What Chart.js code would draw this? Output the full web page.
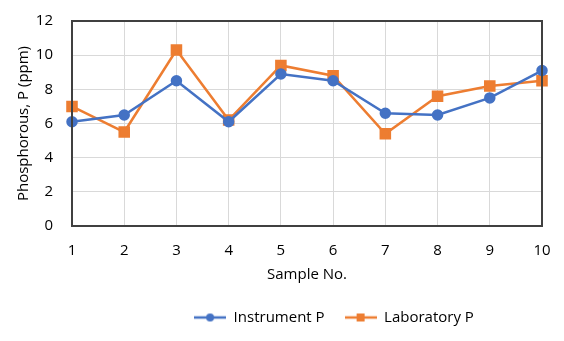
<!DOCTYPE html>
<html>
<head>
<meta charset="utf-8">
<script src="https://cdn.jsdelivr.net/npm/chart.js@4.4.1/dist/chart.umd.min.js"></script>
<style>
  html, body { margin: 0; padding: 0; background: #fff; }
  #wrap { width: 564px; height: 341px; }
</style>
</head>
<body>
<div id="wrap"><canvas id="pChart" width="564" height="341"></canvas></div>
<script>
const samples = ['1', '2', '3', '4', '5', '6', '7', '8', '9', '10'];
const instrumentP = [6.1, 6.5, 8.5, 6.1, 8.9, 8.5, 6.6, 6.5, 7.5, 9.1];
const laboratoryP = [7.0, 5.5, 10.3, 6.2, 9.4, 8.8, 5.4, 7.6, 8.2, 8.5];
const yTicks = [0, 2, 4, 6, 8, 10, 12];

const blue = '#4472C4';
const orange = '#ED7D31';
const font = { family: "'Open Sans', sans-serif", size: 15 };

// small legend swatches: line with marker
function swatch(color, shape) {
    const c = document.createElement('canvas');
    c.width = 32; c.height = 10;
    const g = c.getContext('2d');
    g.strokeStyle = color;
    g.lineWidth = 2.5;
    g.beginPath(); g.moveTo(0, 5); g.lineTo(32, 5); g.stroke();
    g.fillStyle = color;
    if (shape === 'circle') {
        g.beginPath(); g.arc(16, 5, 4, 0, Math.PI * 2); g.fill();
    } else {
        g.fillRect(12, 1, 8, 8);
    }
    return c;
}

const frame = {
    id: 'frame',
    afterLayout(chart) {
        // legend sits right of centre in the original
        chart.legend.left += 63;
        chart.legend.right += 63;
    },
    afterDraw(chart) {
        const a = chart.chartArea, ctx = chart.ctx;
        ctx.save();
        ctx.strokeStyle = '#404040';
        ctx.lineWidth = 2;
        ctx.strokeRect(a.left, a.top, a.right - a.left, a.bottom - a.top);
        ctx.restore();
    }
};

new Chart(document.getElementById('pChart'), {
    type: 'line',
    data: {
        labels: samples,
        datasets: [{
            label: 'Instrument P',
            data: instrumentP,
            borderColor: blue,
            backgroundColor: blue,
            borderWidth: 2.5,
            pointStyle: 'circle',
            pointRadius: 4.5,
            pointHoverRadius: 4.5,
            tension: 0
        }, {
            label: 'Laboratory P',
            data: laboratoryP,
            borderColor: orange,
            backgroundColor: orange,
            borderWidth: 2.5,
            pointStyle: 'rect',
            pointRadius: 6.4,
            pointHoverRadius: 6.4,
            tension: 0
        }]
    },
    options: {
        responsive: false,
        animation: false,
        layout: { padding: { left: 0, top: 21, right: 22, bottom: 6 } },
        scales: {
            x: {
                offset: false,
                grid: { color: '#D9D9D9', offset: false, drawTicks: false },
                border: { display: false },
                ticks: { color: '#000', font: font, padding: 16, maxRotation: 0, autoSkip: false },
                title: { display: true, text: 'Sample No.', color: '#000', font: font, padding: { top: 6, bottom: 6 } },
                afterFit: s => { s.height = 64; s.paddingLeft = 0; s.paddingRight = 0; }
            },
            y: {
                min: 0,
                max: 12,
                afterBuildTicks: s => { s.ticks = yTicks.map(v => ({ value: v })); },
                grid: { color: '#D9D9D9', drawTicks: false },
                border: { display: false },
                ticks: { color: '#000', font: font, padding: 19 },
                title: { display: true, text: 'Phosphorous, P (ppm)', color: '#000', font: font, padding: { top: 15, bottom: 0 } },
                afterFit: s => { s.width = 72; s.paddingTop = 0; s.paddingBottom = 0; }
            }
        },
        plugins: {
            legend: {
                position: 'bottom',
                labels: {
                    color: '#000',
                    font: font,
                    padding: 20,
                    usePointStyle: true,
                    pointStyleWidth: 32,
                    generateLabels: chart => chart.data.datasets.map((d, i) => ({
                        text: d.label,
                        pointStyle: swatch(d.borderColor, i === 0 ? 'circle' : 'rect'),
                        fontColor: '#000',
                        datasetIndex: i,
                        lineWidth: 0
                    }))
                }
            },
            tooltip: { enabled: false }
        }
    },
    plugins: [frame]
});
</script>
</body>
</html>
